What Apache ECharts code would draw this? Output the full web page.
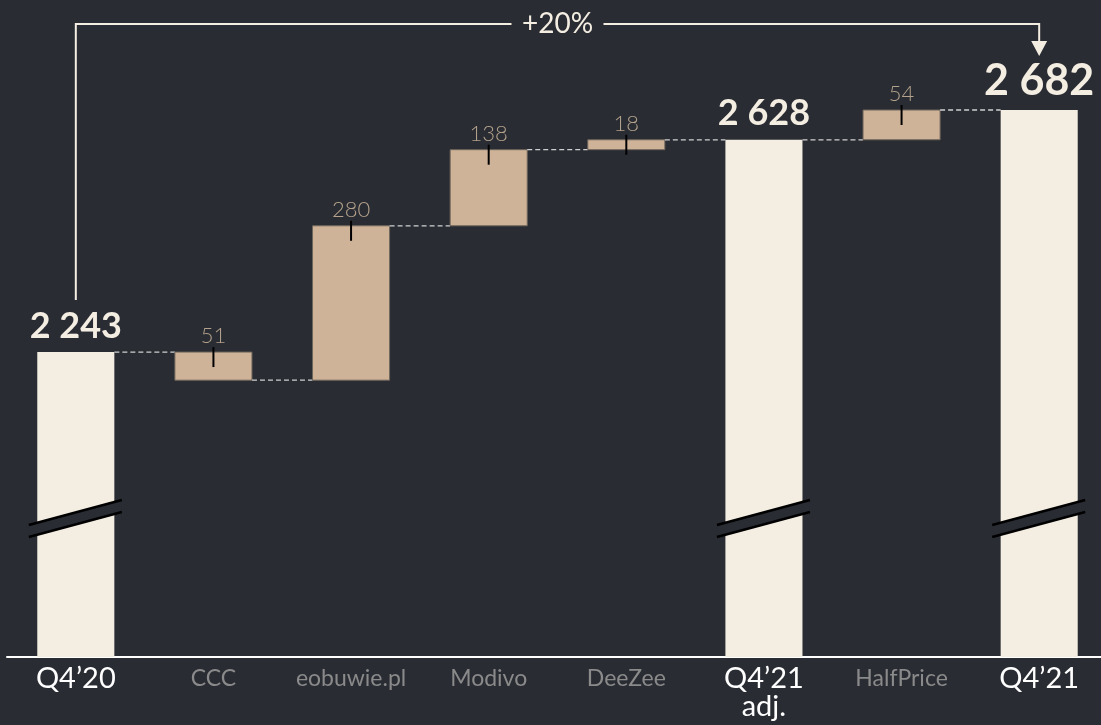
<!DOCTYPE html>
<html><head><meta charset="utf-8">
<script src="https://cdn.jsdelivr.net/npm/echarts@6/dist/echarts.min.js"></script>
<style>html,body{margin:0;padding:0;background:#292c33;overflow:hidden;}#c{width:1108px;height:725px;}</style>
</head><body><div id="c"></div>
<script>
// ---- data ----
const categories = ['Q4’20', 'CCC', 'eobuwie.pl', 'Modivo', 'DeeZee', 'Q4’21\nadj.', 'HalfPrice', 'Q4’21'];
const isTotal = [true, false, false, false, false, true, false, true];
const values = [2243, -51, 280, 138, 18, 2628, 54, 2682];
const axisMin = 1690;
const axisMax = 2682;
const breakValue = 1953;

// ---- derived rows: [index, low, high, endLevel] ----
const rows = [];
let level = 0;
values.forEach((v, i) => {
  if (isTotal[i]) {
    rows.push([i, axisMin, v, v]);
    level = v;
  } else {
    const next = level + v;
    rows.push([i, Math.min(level, next), Math.max(level, next), next]);
    level = next;
  }
});
function fmtTotal(v) { return String(v).replace(/\B(?=(\d{3})+(?!\d))/g, ' '); }
const growth = Math.round((values[values.length - 1] / values[0] - 1) * 100);

const BG = '#292c33';
const CREAM = '#f4ede2';
const TAN = '#cfb398';
const FONT = 'Lato';

function renderBar(params, api) {
  const i = api.value(0), low = api.value(1), high = api.value(2), end = api.value(3);
  const total = isTotal[i];
  const bw = api.size([1, 0])[0] * 0.56;
  const pTop = api.coord([i, high]);
  const pLow = api.coord([i, low]);
  const cx = pTop[0];
  const x = cx - bw / 2;
  const ch = [];
  ch.push({ type: 'rect', shape: { x: x, y: pTop[1], width: bw, height: pLow[1] - pTop[1] },
    style: total ? { fill: CREAM } : { fill: TAN, stroke: '#6f665c', lineWidth: 1 } });
  // dashed connector to next bar
  if (i < categories.length - 1) {
    const pe = api.coord([i, end]);
    const nx = api.coord([i + 1, end])[0] - bw / 2;
    ch.push({ type: 'line', shape: { x1: x + bw, y1: pe[1], x2: nx, y2: pe[1] },
      style: { stroke: '#cfcfcf', lineWidth: 1.3, lineDash: [5, 3] } });
  }
  if (total) {
    const yc = api.coord([i, breakValue])[1];
    const lx = cx - 47, rx = cx + 46;
    ch.push({ type: 'polygon', shape: { points: [[lx, yc + 13], [rx, yc - 12], [rx, yc], [lx, yc + 25]] },
      style: { fill: BG } });
    ch.push({ type: 'line', shape: { x1: lx, y1: yc + 13, x2: rx, y2: yc - 12 }, style: { stroke: '#000', lineWidth: 2.5 } });
    ch.push({ type: 'line', shape: { x1: lx, y1: yc + 25, x2: rx, y2: yc }, style: { stroke: '#000', lineWidth: 2.5 } });
    const big = i === categories.length - 1;
    ch.push({ type: 'text', style: { x: cx, y: pTop[1] - (big ? 29 : 26), text: fmtTotal(high),
      fill: CREAM, font: 'bold ' + (big ? 43 : 36) + 'px ' + FONT, textAlign: 'center', textVerticalAlign: 'middle' } });
  } else {
    ch.push({ type: 'line', shape: { x1: cx, y1: pTop[1] - 5, x2: cx, y2: pTop[1] + 15 }, style: { stroke: '#000', lineWidth: 2 } });
    ch.push({ type: 'text', style: { x: cx, y: pTop[1] - 16, text: String(Math.abs(values[i])),
      fill: '#b4a28c', font: '300 22px ' + FONT, textAlign: 'center', textVerticalAlign: 'middle' } });
  }
  return { type: 'group', children: ch };
}

function renderArrow(params, api) {
  const p0 = api.coord([api.value(0), api.value(1)]);
  const p1 = api.coord([api.value(2), api.value(3)]);
  const topY = api.coord([0, axisMax])[1] - 86;
  const midX = (p0[0] + p1[0]) / 2;
  const st = { stroke: CREAM, lineWidth: 2 };
  return { type: 'group', children: [
    { type: 'polyline', shape: { points: [[p0[0], p0[1] - 52], [p0[0], topY], [midX - 46, topY]] }, style: Object.assign({ fill: null }, st) },
    { type: 'polyline', shape: { points: [[midX + 46, topY], [p1[0], topY], [p1[0], topY + 18]] }, style: Object.assign({ fill: null }, st) },
    { type: 'polygon', shape: { points: [[p1[0] - 8, topY + 17], [p1[0] + 8, topY + 17], [p1[0], topY + 32]] }, style: { fill: CREAM } },
    { type: 'text', style: { x: midX, y: topY, text: '+' + growth + '%', fill: CREAM, font: '28px ' + FONT,
      textAlign: 'center', textVerticalAlign: 'middle' } }
  ] };
}

const chart = echarts.init(document.getElementById('c'), null, { renderer: 'canvas' });
chart.setOption({
  backgroundColor: BG,
  animation: false,
  grid: { left: 7, right: 0, top: 110, bottom: 68, containLabel: false },
  xAxis: {
    type: 'category', data: categories, boundaryGap: true,
    axisTick: { show: false },
    axisLine: { lineStyle: { color: '#ffffff', width: 2 } },
    axisLabel: {
      interval: 0, margin: 8,
      formatter: function (v, idx) {
        const tag = isTotal[idx] ? 't' : 'c';
        return v.split('\n').map(s => '{' + tag + '|' + s + '}').join('\n');
      },
      rich: {
        t: { color: '#ffffff', fontSize: 29, fontFamily: FONT, lineHeight: 28 },
        c: { color: '#8a8a8a', fontSize: 23, fontFamily: FONT, lineHeight: 28 }
      }
    }
  },
  yAxis: { type: 'value', min: axisMin, max: axisMax, show: false, splitLine: { show: false } },
  series: [
    { type: 'custom', renderItem: renderBar, data: rows, encode: { x: 0, y: [1, 2] }, z: 2 },
    { type: 'custom', renderItem: renderArrow, data: [[0, values[0], values.length - 1, values[values.length - 1]]], encode: { x: [0, 2], y: [1, 3] }, z: 3 }
  ]
});
</script></body></html>
